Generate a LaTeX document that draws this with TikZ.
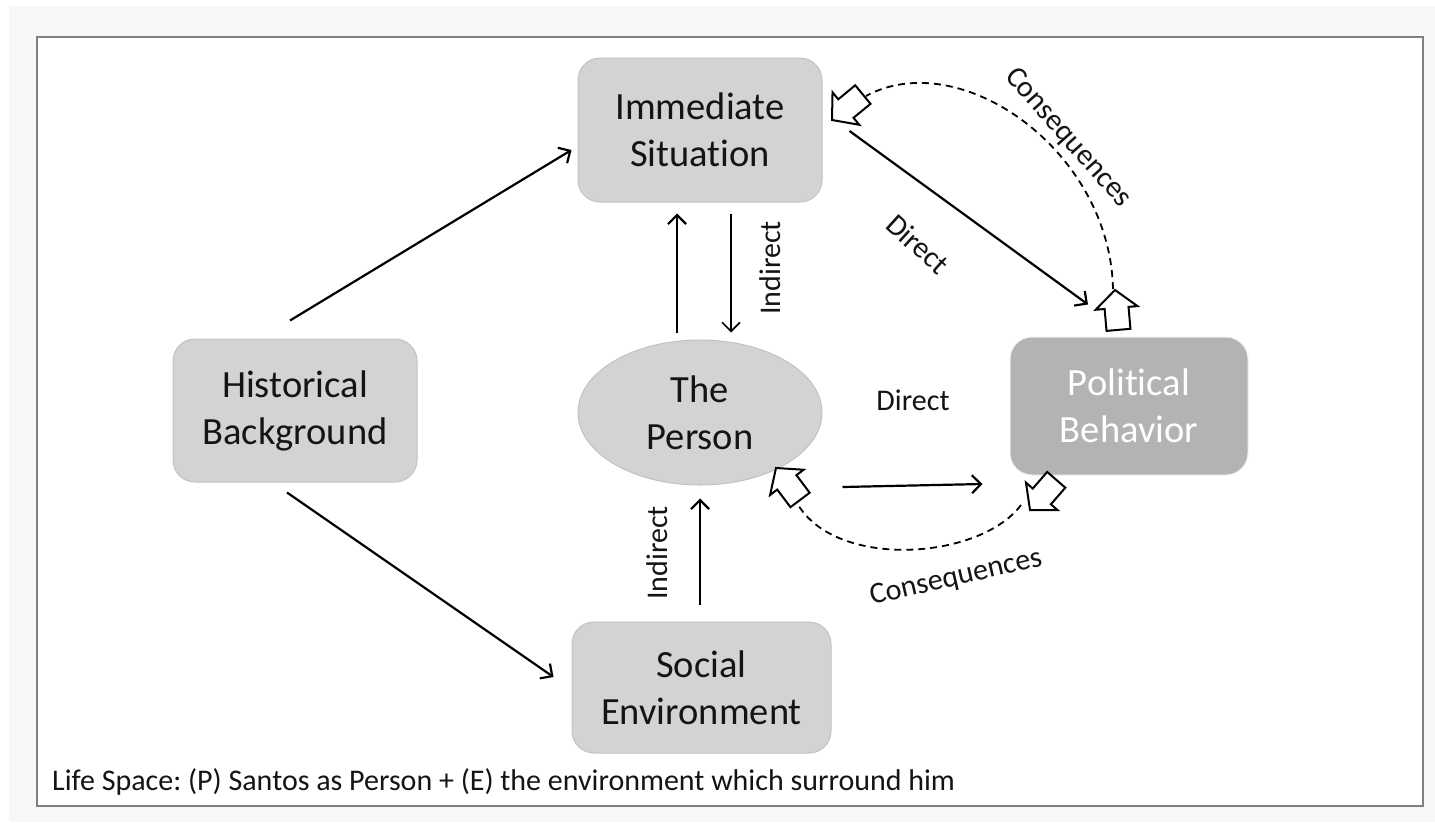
\documentclass[tikz,border=0pt]{standalone}
\usepackage{fontspec}
\setmainfont{Carlito}[Ligatures=NoCommon]
\usetikzlibrary{arrows.meta,calc,shapes.geometric}

\definecolor{boxgray}{HTML}{D3D3D3}
\definecolor{boxline}{HTML}{C2C2C2}
\definecolor{darkbox}{HTML}{B3B3B3}
\definecolor{framegray}{HTML}{808080}
\definecolor{pagegray}{HTML}{F7F7F7}
\definecolor{inktext}{HTML}{141414}

\newcommand{\diagbigfont}{\fontsize{38.5}{47}\selectfont}
\newcommand{\diagsmallfont}{\fontsize{30}{36}\selectfont}
\frenchspacing

\begin{document}
\begin{tikzpicture}[x=1pt,y=-1pt,
  box/.style={rectangle, rounded corners=22pt, fill=boxgray, draw=boxline,
    line width=1pt, align=center, font=\diagbigfont, text=inktext, inner sep=0pt},
  lbl/.style={font=\diagsmallfont, text=inktext, inner sep=0pt},
  link/.style={-{Straight Barb[length=9pt,width=18pt]}, line width=2.2pt},
  thinlink/.style={-{Straight Barb[length=9pt,width=18pt]}, line width=1.7pt},
  conseq/.style={dash pattern=on 7pt off 5pt, line width=1.8pt},
  blockarrow/.pic={\draw[fill=white, line width=2pt, line join=miter]
    (0,0) -- (-18,-21) -- (-18,-12) -- (-40,-12) -- (-40,12) -- (-18,12) -- (-18,21) -- cycle;}
]
\useasboundingbox (0,0) rectangle (1435,822);
\fill[white] (0,0) rectangle (1435,822);
\fill[pagegray] (9,6) rectangle (1435,822);
\draw[framegray, line width=2.5pt, fill=white] (37,37) rectangle (1423,806);

% the five elements of the life space
\node[box, minimum width=244pt, minimum height=144pt] (imm) at (700,130) {Immediate\\Situation};
\node[box, minimum width=244pt, minimum height=143pt] (hist) at (295,410.5) {Historical\\Background};
\node[box, minimum width=259pt, minimum height=131pt] (soc) at (701.5,687.5) {Social\\Environment};
\node[box, minimum width=238pt, minimum height=138pt, fill=darkbox, draw=white!94!black, text=white] (pol) at (1129,406) {Political\\Behavior};
\node[ellipse, fill=boxgray, draw=boxline, line width=1pt, minimum width=244pt, minimum height=145pt,
  inner sep=0pt, align=center, font=\diagbigfont, text=inktext] (person) at (700,412.5) {The\\Person};

% influences
\draw[link] ($(hist.north)+(-5,-18)$) -- ($(imm.west)+(-6,20)$);
\draw[link] ($(hist.south)+(-8,10)$) -- ($(soc.west)+(-18,-10.5)$);
\draw[link] ($(person.north)+(-23,-7)$) -- ($(imm.south)+(-23,11)$);
\draw[thinlink] ($(imm.south)+(31,11)$) -- ($(person.north)+(31,-7)$);
\draw[link] ($(soc.north)+(-1.5,-17)$) -- ($(person.south)+(0,13)$);
\draw[link] ($(person.east)+(20,74.5)$) -- ($(pol.west)+(-27,78)$);
\draw[link] ($(imm.east)+(27,1)$) -- ($(pol.north)+(-41,-32)$);

% labels on the influences
\node[lbl, rotate=90] (indtop) at (770,268) {Indirect};
\node[lbl, rotate=90] (indbot) at (657,553) {Indirect};
\node[lbl] (dirmid) at (913,400) {Direct};
\node[lbl, rotate=-42] (dirtop) at (918,244) {Direct};

% feedback loops
\coordinate (topstart) at (1113,289);
\coordinate (topend) at (866,96);
\draw[conseq] (topstart) .. controls (1110,150) and (960,45) .. (topend);
\coordinate (botstart) at (1021,505);
\coordinate (botend) at (797,503);
\draw[conseq] (botstart) .. controls (980,560) and (835,570) .. (botend);

\pic[rotate=219.5] at (832,120) {blockarrow};
\pic[rotate=95] at (1115,290) {blockarrow};
\pic[rotate=229] at (1030,510) {blockarrow};
\pic[rotate=127] at (776,468) {blockarrow};

\node[lbl, rotate=-48.5] (contop) at (1068,138) {Consequences};
\node[lbl, rotate=13] (conbot) at (956,578) {Consequences};

\node[lbl, anchor=base west] (life) at (52,790) {Life Space: (P) Santos as Person + (E) the environment which surround him};
\end{tikzpicture}
\end{document}
